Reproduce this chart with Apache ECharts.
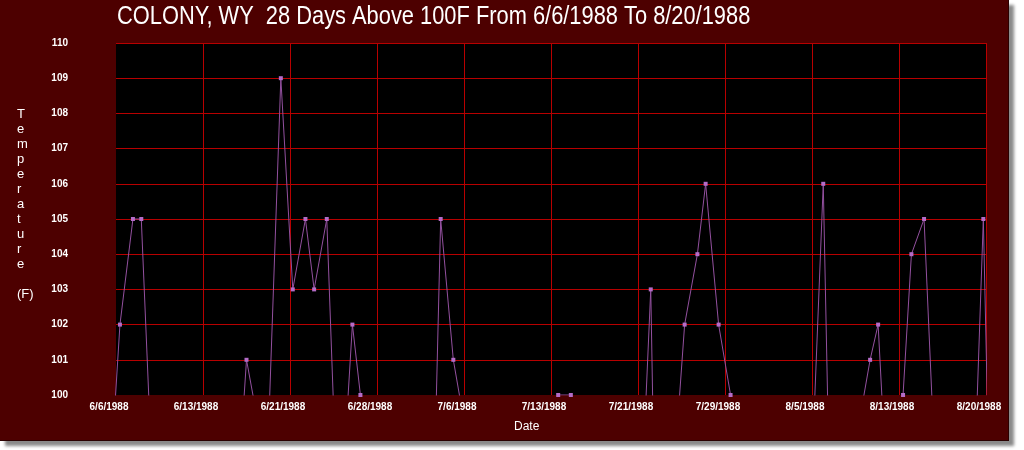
<!DOCTYPE html>
<html>
<head>
<meta charset="utf-8">
<script src="https://cdn.jsdelivr.net/npm/echarts@6/dist/echarts.min.js"></script>
<style>
  html, body { margin: 0; padding: 0; background: #ffffff; width: 1024px; height: 450px; overflow: hidden; }
  #panel { position: absolute; left: 0; top: 0; width: 1008px; height: 440px; background: #4d0000;
           border-right: 1px solid #2a0000; border-bottom: 1px solid #2a0000;
           box-shadow: 5px 5px 3px #8a8a8a; }
  #chart { position: absolute; left: 0; top: 0; width: 1024px; height: 450px; }
</style>
</head>
<body>
<div id="panel"></div>
<div id="chart"></div>
<script>
// Tick labels along the date axis (one every 7.5 days from 6/6/1988)
const tickLabels = ['6/6/1988', '6/13/1988', '6/21/1988', '6/28/1988', '7/6/1988', '7/13/1988',
                    '7/21/1988', '7/29/1988', '8/5/1988', '8/13/1988', '8/20/1988'];
// Position of each reading, in days after 6/6/1988
const dayPos = [-0.66, 0.34, 1.46, 2.18, 3.18, 10.25, 11.25, 12.25, 13.2, 14.21, 15.24, 16.33, 17.08, 18.17,
                19.2, 20.38, 21.07, 22.1, 27.0, 27.99, 29.08, 30.08, 37.1, 38.12, 39.21, 40.2, 45.1, 46.10,
                47.1, 48.0, 49.02, 50.12, 50.83, 51.95, 52.98, 54.0, 59.97, 60.97, 61.97, 64.0, 65.01, 65.70,
                66.8, 67.85, 68.57, 69.66, 70.66, 73.77, 74.77, 75.77];
// Daily high temperature (F); values under 100 are estimated from the visible slopes
const tempF = [96.7, 102, 105, 105, 97.2, 96, 101, 99.2, 99.5, 109, 103, 105, 103, 105,
               95.6, 102, 100, 97, 91.6, 105, 101, 99.1, 98, 100, 100, 98, 95.5, 103,
               84, 97.3, 102, 104, 106, 102, 100, 97, 97.7, 106, 89.8, 99.1, 101, 102,
               95.1, 100, 104, 105, 97.5, 95.4, 105, 90];

const chart = echarts.init(document.getElementById('chart'), null, { renderer: 'canvas' });
const seriesData = dayPos.map((d, i) => [d, tempF[i]]);
const gridRed = '#b80000';

chart.setOption({
  backgroundColor: 'transparent',
  animation: false,
  grid: { left: 116, right: 38, top: 43, height: 352, show: true, backgroundColor: '#000000', borderWidth: 0 },
  xAxis: {
    type: 'value', min: 0, max: 75, interval: 7.5,
    axisLine: { show: false }, axisTick: { show: false },
    splitLine: { show: true, showMinLine: false, lineStyle: { color: gridRed, width: 1 } },
    axisLabel: {
      color: '#ffffff', fontSize: 10, fontWeight: 'bold', fontFamily: 'Liberation Sans',
      margin: 7, padding: [0, 14, 0, 0], showMinLabel: true, showMaxLabel: true,
      formatter: v => tickLabels[Math.round(v / 7.5)] || ''
    }
  },
  yAxis: {
    type: 'value', min: 100, max: 110, interval: 1,
    axisLine: { show: false }, axisTick: { show: false },
    splitLine: { show: true, showMinLine: false, lineStyle: { color: gridRed, width: 1 } },
    axisLabel: { color: '#ffffff', fontSize: 10, fontWeight: 'bold', fontFamily: 'Liberation Sans', margin: 48 }
  },
  graphic: [
    { type: 'text', x: 117, y: 4, scaleX: 0.84,
      style: { text: 'COLONY, WY  28 Days Above 100F From 6/6/1988 To 8/20/1988', fill: '#ffffff',
               font: '26px "Liberation Sans"' } },
    { type: 'text', left: 514, top: 421,
      style: { text: 'Date', fill: '#ffffff', font: '12px "Liberation Sans"' } },
    { type: 'text', left: 17, top: 107,
      style: { text: 'T\ne\nm\np\ne\nr\na\nt\nu\nr\ne\n\n(F)', fill: '#ffffff', font: '13px "Liberation Sans"',
               lineHeight: 15, align: 'center' } }
  ],
  series: [{
    type: 'line',
    data: seriesData,
    clip: true,
    symbol: 'rect', symbolSize: 4,
    itemStyle: { color: '#b46cc8' },
    lineStyle: { color: '#93509f', width: 1 }
  }]
});
</script>
</body>
</html>
